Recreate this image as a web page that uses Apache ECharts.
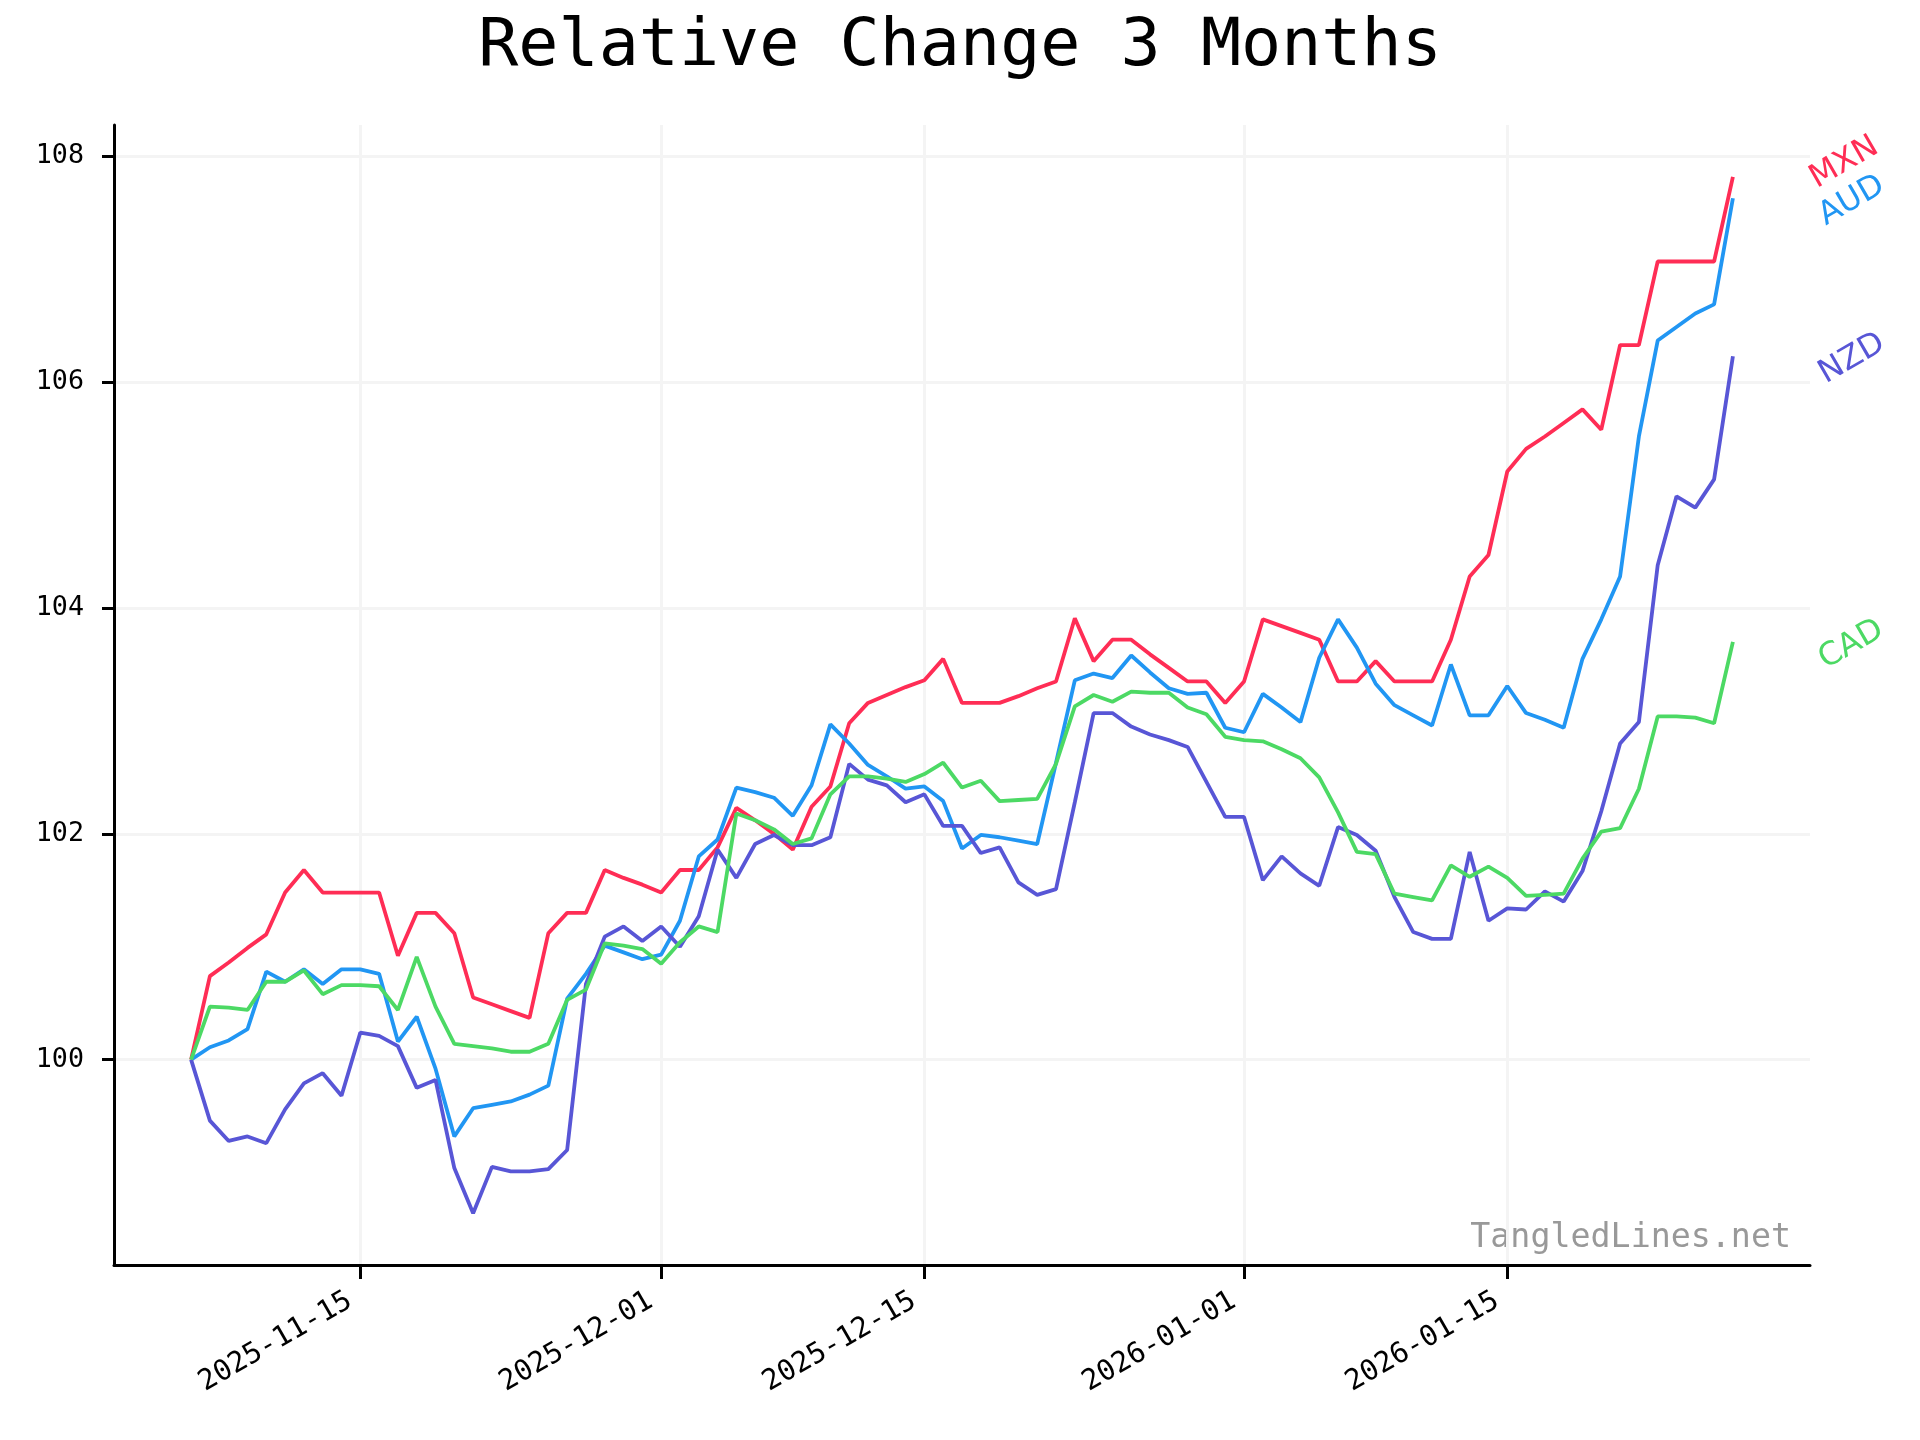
<!DOCTYPE html>
<html><head><meta charset="utf-8">
<script src="https://cdn.jsdelivr.net/npm/echarts@6/dist/echarts.min.js"></script>
<style>html,body{margin:0;padding:0;background:#fff}#c{width:1920px;height:1440px}</style>
</head><body><div id="c"></div>
<script>
// ---- data ----
const startDate = '2025-11-06';   // first daily observation
const MXN = [100.00,100.74,100.86,100.99,101.11,101.48,101.68,101.48,101.48,101.48,101.48,100.92,101.30,101.30,101.12,100.55,100.49,100.43,100.37,101.12,101.30,101.30,101.68,101.61,101.55,101.48,101.68,101.68,101.88,102.23,102.12,102.00,101.86,102.24,102.42,102.98,103.16,103.23,103.30,103.36,103.55,103.16,103.16,103.16,103.22,103.29,103.35,103.91,103.53,103.72,103.72,103.59,103.47,103.35,103.35,103.16,103.35,103.90,103.84,103.78,103.72,103.35,103.35,103.53,103.35,103.35,103.35,103.72,104.28,104.47,105.21,105.41,105.52,105.64,105.76,105.58,106.33,106.33,107.07,107.07,107.07,107.07,107.82];
const AUD = [100.00,100.11,100.17,100.27,100.78,100.69,100.80,100.67,100.80,100.80,100.76,100.16,100.38,99.92,99.32,99.57,99.60,99.63,99.69,99.77,100.54,100.76,101.01,100.95,100.89,100.93,101.23,101.80,101.95,102.41,102.37,102.32,102.16,102.43,102.97,102.80,102.61,102.51,102.40,102.42,102.29,101.87,101.99,101.97,101.94,101.91,102.63,103.36,103.42,103.38,103.58,103.43,103.29,103.24,103.25,102.94,102.90,103.24,103.12,102.99,103.56,103.90,103.65,103.33,103.14,103.05,102.96,103.50,103.05,103.05,103.31,103.07,103.01,102.94,103.55,103.90,104.28,105.52,106.37,106.49,106.61,106.69,107.63];
const NZD = [100.00,99.46,99.28,99.32,99.26,99.56,99.79,99.88,99.68,100.24,100.21,100.12,99.75,99.82,99.04,98.64,99.05,99.01,99.01,99.03,99.20,100.67,101.09,101.18,101.05,101.18,101.00,101.27,101.86,101.61,101.91,101.99,101.90,101.90,101.97,102.62,102.48,102.43,102.28,102.35,102.07,102.07,101.83,101.88,101.57,101.46,101.51,102.28,103.07,103.07,102.95,102.88,102.83,102.77,102.46,102.15,102.15,101.59,101.80,101.65,101.54,102.06,101.99,101.85,101.44,101.13,101.07,101.07,101.84,101.23,101.34,101.33,101.49,101.40,101.67,102.20,102.80,102.99,104.38,104.99,104.89,105.14,106.23];
const CAD = [100.00,100.47,100.46,100.44,100.69,100.69,100.79,100.58,100.66,100.66,100.65,100.44,100.91,100.47,100.14,100.12,100.10,100.07,100.07,100.14,100.53,100.62,101.03,101.01,100.98,100.85,101.04,101.18,101.13,102.18,102.12,102.04,101.91,101.96,102.35,102.51,102.51,102.49,102.46,102.53,102.63,102.41,102.47,102.29,102.30,102.31,102.62,103.13,103.23,103.17,103.26,103.25,103.25,103.12,103.06,102.86,102.83,102.82,102.75,102.67,102.50,102.19,101.84,101.82,101.47,101.44,101.41,101.72,101.62,101.71,101.61,101.45,101.46,101.47,101.78,102.02,102.05,102.40,103.04,103.04,103.03,102.98,103.70];
const seriesNames = ['MXN', 'AUD', 'NZD', 'CAD'];
const xTickLabels = ['2025-11-15', '2025-12-01', '2025-12-15', '2026-01-01', '2026-01-15'];
const yTickLabels = [100, 102, 104, 106, 108];
const titleText = 'Relative Change 3 Months';
const watermark = 'TangledLines.net';

// ---- presentation ----
const seriesData = { MXN, AUD, NZD, CAD };
const colors = { MXN: '#FF2D55', AUD: '#2196F3', NZD: '#5856D6', CAD: '#4CD964' };
const labelNudge = { MXN: -18, AUD: 0, NZD: 0, CAD: 0 };
const DAY = 86400000;
const t0 = Date.parse(startDate + 'T00:00:00Z');
const n = MXN.length;
const dates = Array.from({ length: n }, (_, i) => t0 + i * DAY);
const span = dates[n - 1] - dates[0];
const xMin = dates[0] - span * 0.05, xMax = dates[n - 1] + span * 0.05;
const allVals = [].concat(MXN, AUD, NZD, CAD);
const vMin = Math.min(...allVals), vMax = Math.max(...allVals);
const yMin = vMin - (vMax - vMin) * 0.05, yMax = vMax + (vMax - vMin) * 0.05;
const xTickTs = xTickLabels.map(s => Date.parse(s + 'T00:00:00Z'));
const pad = d => String(d).padStart(2, '0');
const fmt = v => { const d = new Date(v); return d.getUTCFullYear() + '-' + pad(d.getUTCMonth() + 1) + '-' + pad(d.getUTCDate()); };
const MONO = 'DejaVu Sans Mono';

const chart = echarts.init(document.getElementById('c'), null, { renderer: 'canvas' });
chart.setOption({
  backgroundColor: '#fff',
  animation: false,
  title: {
    text: titleText, left: 'center', top: 9,
    textStyle: { fontFamily: MONO, fontSize: 66.7, fontWeight: 'normal', color: '#000' }
  },
  grid: { left: 114, right: 110, top: 125, bottom: 175, containLabel: false },
  xAxis: {
    type: 'value', min: xMin, max: xMax, scale: true,
    axisLine: { show: true, lineStyle: { color: '#000', width: 3 } },
    axisTick: { show: true, customValues: xTickTs, length: 14, lineStyle: { color: '#000', width: 3 } },
    axisLabel: { customValues: xTickTs, rotate: 30, margin: 28, padding: [0, 12, 0, 0], formatter: v => fmt(v),
      fontFamily: MONO, fontSize: 28.5, color: '#000' },
    splitLine: { show: true, lineStyle: { color: '#f4f4f4', width: 3 } }
  },
  yAxis: {
    type: 'value', min: yMin, max: yMax,
    axisLine: { show: true, lineStyle: { color: '#000', width: 3 } },
    axisTick: { show: true, customValues: yTickLabels, length: 12, lineStyle: { color: '#000', width: 3 } },
    axisLabel: { customValues: yTickLabels, margin: 30, fontFamily: MONO, fontSize: 26.7, color: '#000' },
    splitLine: { show: true, lineStyle: { color: '#f4f4f4', width: 3 } }
  },
  graphic: [{
    type: 'text', style: { text: watermark, x: 1791, y: 1238, align: 'right', verticalAlign: 'middle',
      font: '33.3px "DejaVu Sans Mono"', fill: '#999' }
  }],
  series: seriesNames.map(name => {
    const vals = seriesData[name];
    return {
      name, type: 'line', showSymbol: false, symbol: 'none', clip: false,
      data: vals.map((v, i) => [dates[i], v]),
      lineStyle: { color: colors[name], width: 3.8 },
      itemStyle: { color: colors[name] },
      markPoint: {
        symbol: 'circle', symbolSize: 0, silent: true,
        data: [{ coord: [xMax, vals[n - 1]] }],
        label: { show: true, formatter: name, position: 'right', distance: 0, rotate: 30,
          offset: [0, 23 + labelNudge[name]], align: 'left', verticalAlign: 'middle',
          fontFamily: 'DejaVu Sans', fontSize: 32, color: colors[name] }
      }
    };
  })
});
</script></body></html>
